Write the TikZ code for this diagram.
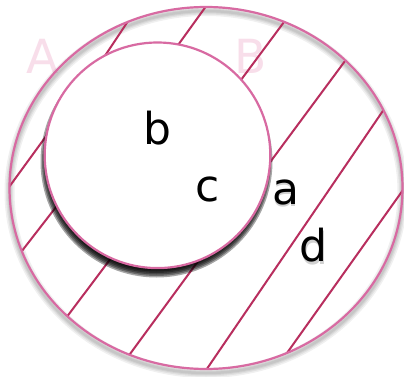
\documentclass[tikz,border=0pt]{standalone}
\usepackage{fontspec}
\setmainfont{DejaVu Sans}
\usetikzlibrary{calc}
\definecolor{ringpink}{RGB}{216,106,162}
\definecolor{hatchred}{RGB}{184,46,94}
\definecolor{palepink}{RGB}{248,222,234}
\tikzset{
  ringline/.style={draw=ringpink, line width=2.2pt},
  hatchline/.style={draw=hatchred, line width=2pt},
  biglabel/.style={font=\fontsize{44}{50}\selectfont, anchor=base, inner sep=0pt},
  ghostlabel/.style={font=\fontsize{47}{52}\selectfont, anchor=base, inner sep=0pt, text=palepink},
  textshadow/.style={font=\fontsize{44}{50}\selectfont, anchor=base, inner sep=0pt, text=black, opacity=0.18}
}
\newcommand{\hatchseg}[2]{\draw[hatchline] ($#1!-0.25!#2$) -- ($#1!1.25!#2$);}
\begin{document}
\begin{tikzpicture}[x=1pt,y=-1pt]
\useasboundingbox (0,0) rectangle (404,377);
\fill[white] (0,0) rectangle (404,377);
% pale letters behind
\node[ghostlabel] (A) at (42.5,74) {A};
\node[ghostlabel] (B) at (250.5,74) {B};
% outer ring shadow
\foreach \w in {10,7,4.5,2.5}
  \draw[black, opacity=0.06, line width=\w pt] (206,192) ellipse [x radius=196.5pt, y radius=181pt];
% hatching inside annulus
\begin{scope}[even odd rule]
  \clip (206,188) ellipse [x radius=196.5pt, y radius=181pt]
        (157.5,155.3) circle [radius=112.8pt];
  \hatchseg{(128.3,20.7)}{(106,54.3)}
  \hatchseg{(205.7,6.7)}{(179.3,43.3)}
  \hatchseg{(285,20.7)}{(241.7,79)}
  \hatchseg{(345,61)}{(271.7,160)}
  \hatchseg{(386.7,105.3)}{(207.3,368.3)}
  \hatchseg{(403,190)}{(287,353)}
  \hatchseg{(43.3,140)}{(9.3,186.7)}
  \hatchseg{(55,208.3)}{(24,248.3)}
  \hatchseg{(108.3,261.7)}{(68.3,315)}
  \hatchseg{(194,266.7)}{(130,354)}
\end{scope}
% outer ring
\draw[ringline] (206,188) ellipse [x radius=196.5pt, y radius=181pt];
% inner disk shadow
\foreach \r in {116,114.5,113,111.5,110,108.5}
  \fill[black, opacity=0.35] (156.5,161.5) circle [radius=\r pt];
% inner disk
\filldraw[fill=white, ringline] (157.5,155.3) circle [radius=112.8pt];
% labels
\node[biglabel] (b) at (157.5,145) {b};
\node[biglabel] (c) at (207.5,201.7) {c};
\node[textshadow] (ash) at (286,206.5) {a};
\node[textshadow] (dsh) at (314,264.2) {d};
\node[biglabel] (a) at (285.5,204) {a};
\node[biglabel] (d) at (313.5,261.7) {d};
\end{tikzpicture}
\end{document}
